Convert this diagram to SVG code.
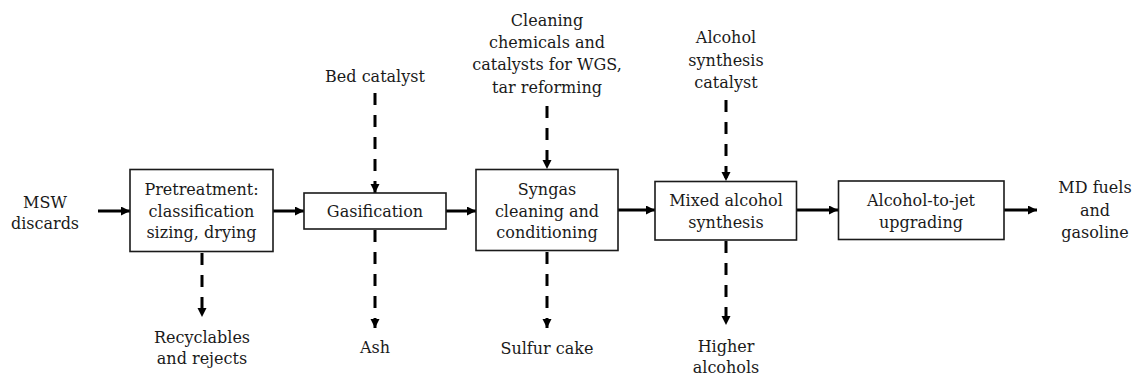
<svg xmlns="http://www.w3.org/2000/svg" width="1137" height="379" viewBox="0 0 1137 379">
<defs>
<style>
text{font-family:"DejaVu Serif","Liberation Serif",serif;font-size:16px;fill:#1a1a1a;text-anchor:middle}
.box{fill:#fff;stroke:#1a1a1a;stroke-width:1.6}
.flow{stroke:#000;stroke-width:3;fill:none}
.dash{stroke:#000;stroke-width:3;fill:none;stroke-dasharray:12 10}
</style>
<marker id="ah" markerUnits="userSpaceOnUse" markerWidth="10" markerHeight="10" refX="9" refY="4.5" orient="auto">
<path d="M0,0 L9,4.5 L0,9 z" fill="#000"/>
</marker>
</defs>
<rect width="1137" height="379" fill="#fff"/>
<g id="connectors">
<line class="flow" x1="98" y1="211" x2="130" y2="211" marker-end="url(#ah)"/>
<line class="flow" x1="273" y1="211" x2="304" y2="211" marker-end="url(#ah)"/>
<line class="flow" x1="446" y1="211" x2="476" y2="211" marker-end="url(#ah)"/>
<line class="flow" x1="618" y1="210" x2="655" y2="210" marker-end="url(#ah)"/>
<line class="flow" x1="797" y1="210" x2="838" y2="210" marker-end="url(#ah)"/>
<line class="flow" x1="1004" y1="210" x2="1037" y2="210" marker-end="url(#ah)"/>
<line class="dash" x1="202" y1="253" x2="202" y2="317" marker-end="url(#ah)"/>
<line class="dash" x1="375" y1="93" x2="375" y2="193" marker-end="url(#ah)"/>
<line class="dash" x1="375" y1="230" x2="375" y2="328" marker-end="url(#ah)"/>
<line class="dash" x1="547" y1="106" x2="547" y2="169" marker-end="url(#ah)"/>
<line class="dash" x1="547" y1="252" x2="547" y2="328" marker-end="url(#ah)"/>
<line class="dash" x1="726" y1="100" x2="726" y2="181" marker-end="url(#ah)"/>
<line class="dash" x1="726" y1="241" x2="726" y2="325" marker-end="url(#ah)"/>
</g>
<g id="msw"><text x="45" y="208">MSW</text><text x="45" y="229">discards</text></g>
<g id="pretreatment">
<rect class="box" x="130" y="169.5" width="143" height="82"/>
<text x="201.5" y="195">Pretreatment:</text>
<text x="201.5" y="216.5">classification</text>
<text x="201.5" y="238">sizing, drying</text>
</g>
<g id="recyclables"><text x="202" y="343">Recyclables</text><text x="202" y="364">and rejects</text></g>
<g id="bed-catalyst"><text x="375" y="82">Bed catalyst</text></g>
<g id="gasification">
<rect class="box" x="304" y="193" width="142" height="36"/>
<text x="375" y="217">Gasification</text>
</g>
<g id="ash"><text x="375" y="353">Ash</text></g>
<g id="cleaning-chemicals">
<text x="547" y="26">Cleaning</text>
<text x="547" y="48">chemicals and</text>
<text x="547" y="70">catalysts for WGS,</text>
<text x="547" y="93">tar reforming</text>
</g>
<g id="syngas">
<rect class="box" x="476" y="169.5" width="142" height="81"/>
<text x="547" y="195">Syngas</text>
<text x="547" y="216.5">cleaning and</text>
<text x="547" y="238">conditioning</text>
</g>
<g id="sulfur"><text x="547" y="354">Sulfur cake</text></g>
<g id="alcohol-catalyst">
<text x="726" y="43">Alcohol</text>
<text x="726" y="66">synthesis</text>
<text x="726" y="88">catalyst</text>
</g>
<g id="mixed-alcohol">
<rect class="box" x="655" y="181.5" width="141.5" height="58.5"/>
<text x="726" y="206">Mixed alcohol</text>
<text x="726" y="228">synthesis</text>
</g>
<g id="higher-alcohols"><text x="726" y="352">Higher</text><text x="726" y="373">alcohols</text></g>
<g id="atj">
<rect class="box" x="838.5" y="181" width="165.5" height="58.5"/>
<text x="921" y="206">Alcohol-to-jet</text>
<text x="921" y="228">upgrading</text>
</g>
<g id="md-fuels">
<text x="1095" y="193">MD fuels</text>
<text x="1095" y="216">and</text>
<text x="1095" y="238">gasoline</text>
</g>
</svg>
